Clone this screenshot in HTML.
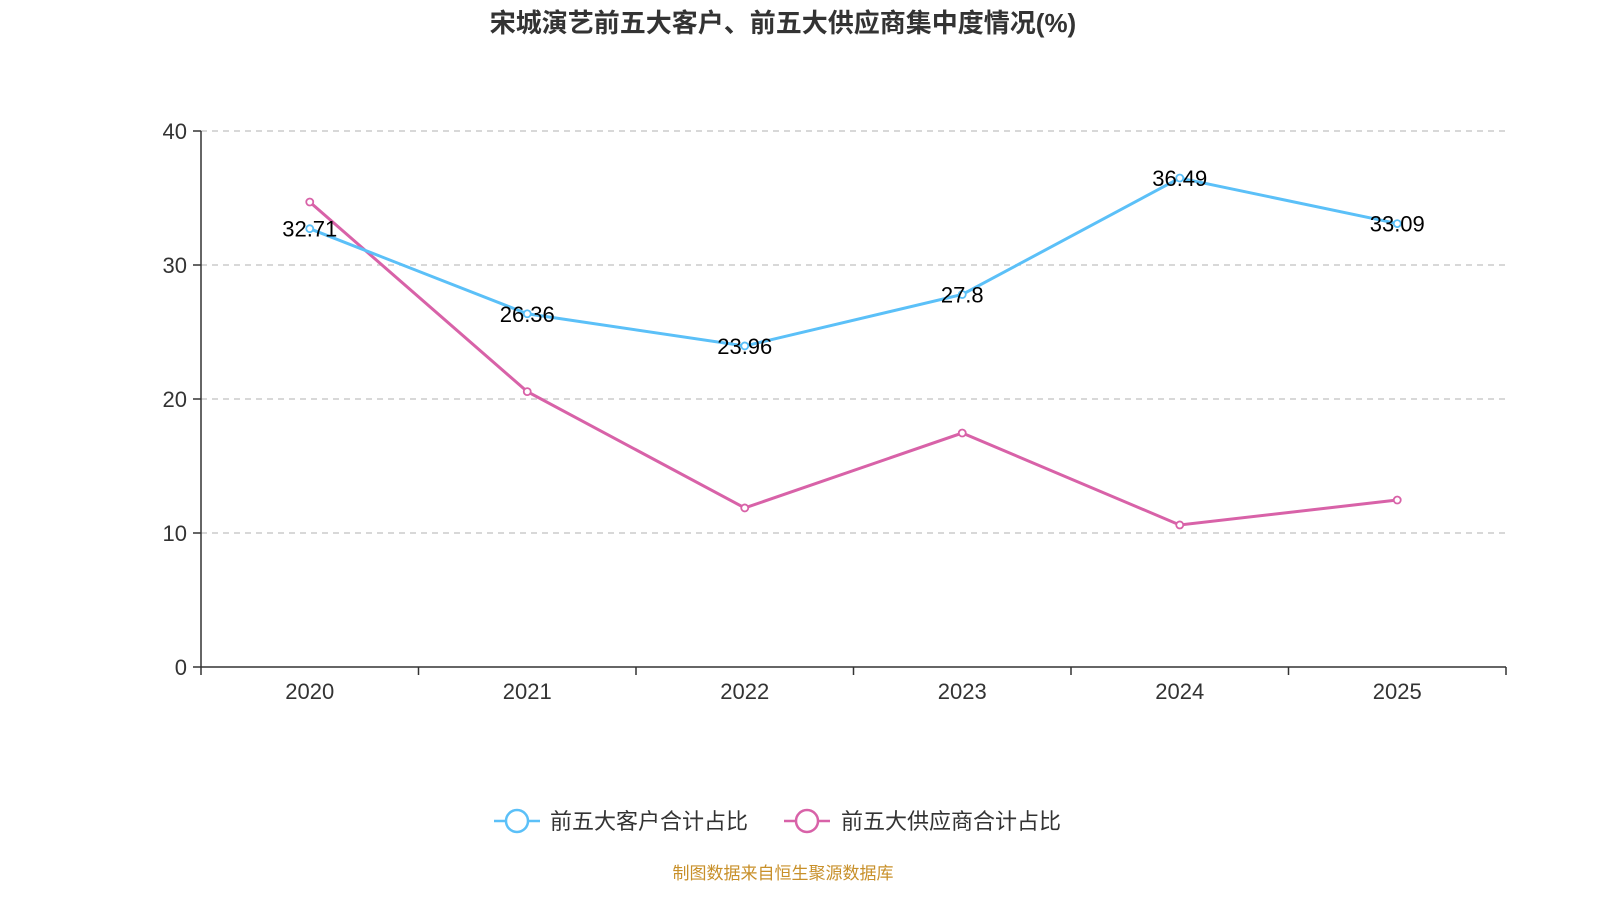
<!DOCTYPE html>
<html><head><meta charset="utf-8"><style>
body{margin:0;background:#fff;font-family:"Liberation Sans","Noto Sans CJK SC",sans-serif}
</style></head><body>
<svg id="c" width="1600" height="900" xmlns="http://www.w3.org/2000/svg">
<text x="783" y="32" text-anchor="middle" font-size="26" font-weight="bold" fill="#333" font-family="Liberation Sans,Noto Sans CJK SC,sans-serif">宋城演艺前五大客户、前五大供应商集中度情况(%)</text>
<g id="grid"></g><g id="axes"></g><g id="series"></g>
<g font-family="Liberation Sans,Noto Sans CJK SC,sans-serif" font-size="22" fill="#333">
<g>
<line x1="494" y1="821" x2="540" y2="821" stroke="#5bc0f8" stroke-width="2.5"/><circle cx="517" cy="821" r="11" fill="#fff" stroke="#5bc0f8" stroke-width="2.5"/>
<text x="550" y="829">前五大客户合计占比</text></g>
<g>
<line x1="784" y1="821" x2="830" y2="821" stroke="#d862a8" stroke-width="2.5"/><circle cx="807" cy="821" r="11" fill="#fff" stroke="#d862a8" stroke-width="2.5"/>
<text x="841" y="829">前五大供应商合计占比</text></g>
</g>
<text x="783" y="879" text-anchor="middle" font-size="17" fill="#c8902a" font-family="Liberation Sans,Noto Sans CJK SC,sans-serif">制图数据来自恒生聚源数据库</text>
</svg>
<script>
const categories=["2020","2021","2022","2023","2024","2025"];
const customers=[32.71,26.36,23.96,27.8,36.49,33.09];
const suppliers=[34.7,20.55,11.87,17.46,10.6,12.46];
const yTicks=[0,10,20,30,40];
const NS="http://www.w3.org/2000/svg";
const L=201,R=1506,T=131,B=667,yMax=40;
const bw=(R-L)/categories.length;
const x=i=>L+bw*(i+0.5);
const y=v=>B-(v/yMax)*(B-T);
function mk(p,t,a){const e=document.createElementNS(NS,t);for(const k in a)e.setAttribute(k,a[k]);p.appendChild(e);return e;}
const grid=document.getElementById('grid'),axes=document.getElementById('axes'),ser=document.getElementById('series');
yTicks.forEach(v=>{
 if(v>0){const g=mk(grid,'line',{x1:L,x2:R,y1:y(v),y2:y(v),stroke:'#ccc','stroke-width':1.5,'stroke-dasharray':'6,5'});
 
 }
 const tk=mk(axes,'line',{x1:L-8,x2:L,y1:y(v),y2:y(v),stroke:'#333','stroke-width':1.5});
 
 
 const t=mk(axes,'text',{x:L-14,y:y(v)+8,'text-anchor':'end','font-size':22,fill:'#333'});t.textContent=v;
 
 
});
const ya=mk(axes,'line',{x1:L,x2:L,y1:T,y2:B,stroke:'#333','stroke-width':1.5});


const xa=mk(axes,'line',{x1:L,x2:R,y1:B,y2:B,stroke:'#333','stroke-width':1.5});


for(let i=0;i<=categories.length;i++){const tk=mk(axes,'line',{x1:L+bw*i,x2:L+bw*i,y1:B,y2:B+8,stroke:'#333','stroke-width':1.5});
 
 }
categories.forEach((c,i)=>{const t=mk(axes,'text',{x:x(i),y:B+32,'text-anchor':'middle','font-size':22,fill:'#333'});t.textContent=c;
 
 });
function line(vals,color,name,labels){
 const p=mk(ser,'polyline',{points:vals.map((v,i)=>x(i)+','+y(v)).join(' '),fill:'none',stroke:color,'stroke-width':3});
 
 
 vals.forEach((v,i)=>{const c=mk(ser,'circle',{cx:x(i),cy:y(v),r:3.5,fill:'#fff',stroke:color,'stroke-width':1.8});
  
  
  if(labels){const t=mk(ser,'text',{x:x(i),y:y(v)+8,'text-anchor':'middle','font-size':22,fill:'#000'});t.textContent=v;
   
   }
 });
}
line(suppliers,'#d862a8','suppliers',false);
line(customers,'#5bc0f8','customers',true);
</script>
</body></html>
